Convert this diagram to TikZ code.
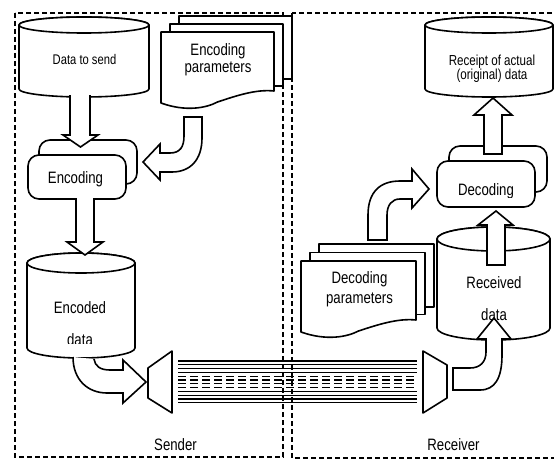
\documentclass[tikz,border=0pt]{standalone}
\usepackage{fontspec}
\setmainfont{Liberation Sans}[FakeStretch=0.8]
\tikzset{
  frame/.style={draw=black, dash pattern=on 5pt off 3pt, line width=1.4pt},
  outline/.style={draw=black, fill=white, line width=1.6pt, line join=round},
  blockarrow/.style={draw=black, fill=white, line width=1.6pt, line join=miter},
  wire/.style={draw=black, line width=1.3pt},
  dashwire/.style={draw=black, line width=1.3pt, dash pattern=on 8pt off 4pt},
  biglabel/.style={anchor=base, inner sep=0pt, font=\fontsize{16.5}{18}\selectfont},
  smalllabel/.style={anchor=base, inner sep=0pt, font=\fontsize{14.5}{16}\selectfont},
  tinylabel/.style={anchor=base, inner sep=0pt, font=\fontsize{14}{15}\selectfont},
}
% upright storage drum: left, right, top centre, bottom centre, half height of the ellipse
\newcommand\drum[5]{%
  \pgfmathsetmacro\dmx{(#1+#2)/2}%
  \pgfmathsetmacro\drx{(#2-#1)/2}%
  \pgfmathsetmacro\dkx{0.5523*\drx}%
  \pgfmathsetmacro\dky{0.5523*#5}%
  \path[outline] (#1,#3) -- (#1,#4)
     .. controls (#1,#4+\dky) and (\dmx-\dkx,#4+#5) .. (\dmx,#4+#5)
     .. controls (\dmx+\dkx,#4+#5) and (#2,#4+\dky) .. (#2,#4)
     -- (#2,#3)
     .. controls (#2,#3-\dky) and (\dmx+\dkx,#3-#5) .. (\dmx,#3-#5)
     .. controls (\dmx-\dkx,#3-#5) and (#1,#3-\dky) .. (#1,#3) -- cycle;
  \draw[outline] (\dmx,#3) ellipse [x radius=\drx, y radius=#5];
}
% stack of three sheets: left, top of the front sheet, width, shift right, shift up
\newcommand\sheets[5]{%
  \path[outline] (#1+2*#4,#2-2*#5) rectangle (#1+2*#4+#3,#2-2*#5+63);
  \path[outline] (#1+#4,#2-#5) rectangle (#1+#4+#3,#2-#5+62);
  \path[outline] (#1,#2) -- (#1+#3,#2) -- (#1+#3,#2+59)
     .. controls (#1+0.84*#3,#2+57) and (#1+0.66*#3,#2+64) .. (#1+0.5*#3,#2+70)
     .. controls (#1+0.4*#3,#2+76) and (#1+0.22*#3,#2+80) .. (#1,#2+71) -- cycle;
}
% process card with a second card behind it
\newcommand\card[6]{%
  \draw[outline, rounded corners=11pt] (#1+#5,#2-#6) rectangle (#3+#5,#4-#6);
  \draw[outline, rounded corners=11pt] (#1,#2) rectangle (#3,#4);
}
\begin{document}
\begin{tikzpicture}[x=1pt,y=-1pt]
\useasboundingbox (0,0) rectangle (554,460);

% sender and receiver areas
\draw[frame] (15,13) rectangle (283,457);
\draw[frame] (292,13) rectangle (557,458);

% transmission line bundle
\foreach \k in {0,1,2,3}
  \draw[wire] (178,361+3.8*\k) -- (417,361+3.8*\k);
\foreach \k in {4,5,6,7}
  \draw[dashwire] (178,361+3.8*\k) -- (417,361+3.8*\k);
\foreach \k in {8,9,10,11}
  \draw[wire] (178,361+3.8*\k) -- (417,361+3.8*\k);

% line terminals
\path[outline] (148,368) -- (172,351) -- (172,413) -- (148,398) -- cycle;
\path[outline] (423,351) -- (447,365) -- (447,398) -- (423,413) -- cycle;

% sender side shapes
\drum{19}{149}{25}{89}{8}
\sheets{161}{32}{113}{9}{8}
\card{28}{155}{126}{199}{11}{15}
\drum{27}{135}{263}{348}{10}

% receiver side shapes
\drum{425}{553}{25}{89}{8}
\card{437}{161}{535}{207}{12}{15}
\sheets{301}{261}{115}{9}{8.5}
\drum{437}{550}{239}{328}{12}

% block arrows, sender side
\path[blockarrow] (70,95) -- (70,135) -- (63,135) -- (80.5,147) -- (98,135) -- (90,135) -- (90,95);
\path[blockarrow] (184,117) -- (202,117) -- (202,138)
   .. controls (202,160) and (190,172) .. (172,172) -- (160,172) -- (160,180)
   -- (143,162) -- (160,144) -- (160,153) -- (170,153)
   .. controls (180,153) and (184,147) .. (184,136) -- cycle;
\path[blockarrow] (76,198) -- (76,242) -- (67,242) -- (85,255) -- (103,242) -- (94,242) -- (94,198);
\path[blockarrow] (94,359) .. controls (95,366) and (100,370) .. (110,370) -- (123,370)
   -- (123,360) -- (146,382) -- (123,403) -- (123,393) -- (107,393)
   .. controls (88,393) and (73,380) .. (73,357);

% block arrows, receiver side
\path[blockarrow] (453,368) -- (470,368) .. controls (480,368) and (486,362) .. (486,352)
   -- (486,339) -- (477,339) -- (494,318) -- (511,339) -- (502,339) -- (502,355)
   .. controls (502,378) and (495,390) .. (480,390) -- (453,390) -- cycle;
\path[blockarrow] (487,265) -- (487,225) -- (478,225) -- (496,211) -- (513,225) -- (505,225) -- (505,265) -- cycle;
\path[blockarrow] (368,240) -- (368,215) .. controls (368,192) and (380,181) .. (400,181)
   -- (412,181) -- (412,169) -- (429,189) -- (412,208) -- (412,199) -- (400,199)
   .. controls (392,199) and (387,205) .. (387,215) -- (387,240) -- cycle;
\path[blockarrow] (484,154) -- (484,115) -- (474,115) -- (493,98) -- (512,115) -- (502,115) -- (502,154) -- cycle;

% labels
\node[tinylabel] (tosend) at (84.5,65) {Data to send};
\node[biglabel] (encparA) at (218,56) {Encoding};
\node[biglabel] (encparB) at (218,73) {parameters};
\begin{scope}
  \clip (28,160) rectangle (126,186);
  \node[biglabel] (encode) at (75.5,183) {Encoding};
\end{scope}
\begin{scope}
  \clip (27,280) rectangle (135,343.5);
  \node[biglabel] (encA) at (80,313) {Encoded};
  \node[biglabel] (encB) at (80,345) {data};
\end{scope}
\node[smalllabel] (gotA) at (492,66) {Receipt of actual};
\node[smalllabel] (gotB) at (492,80) {(original) data};
\begin{scope}
  \clip (437,170) rectangle (535,197.5);
  \node[biglabel] (decode) at (486,195) {Decoding};
\end{scope}
\node[biglabel] (decparA) at (359.5,283) {Decoding};
\node[biglabel] (decparB) at (359.5,303) {parameters};
\node[biglabel] (recvA) at (494,288) {Received};
\node[biglabel] (recvB) at (494,320) {data};
\node[biglabel] (sender) at (175.5,450) {Sender};
\node[biglabel] (receiver) at (453.5,450) {Receiver};
\end{tikzpicture}
\end{document}
